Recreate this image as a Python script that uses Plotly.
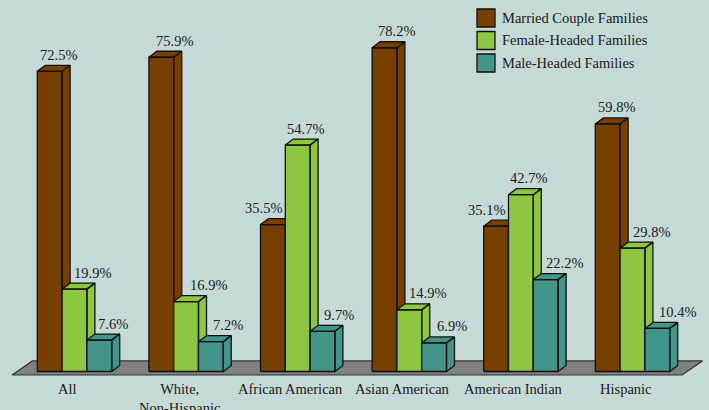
import plotly.graph_objects as go

# ---- data -------------------------------------------------------------
categories = ["All", "White,<br>Non-Hispanic", "African American",
              "Asian American", "American Indian", "Hispanic"]
series_names = ["Married Couple Families", "Female-Headed Families",
                "Male-Headed Families"]
married = [72.5, 75.9, 35.5, 78.2, 35.1, 59.8]
female = [19.9, 16.9, 54.7, 14.9, 42.7, 29.8]
male = [7.6, 7.2, 9.7, 6.9, 22.2, 10.4]
series_values = [married, female, male]

# ---- styling ----------------------------------------------------------
colors = ["#774000", "#8DC63F", "#439489"]
bg = "#C5D9D7"
floor_color = "#808080"
edge = "#111111"
font_family = "Liberation Serif, Times New Roman, serif"
font_size = 14.5
text_color = "#1a1a1a"

# horizontal nudge (px) of each value label, per series
label_dx = [
    [8.5, 13.5, -9.5, 11.5, -9.5, 8.5],
    [17.5, 22, 8, 18, 7.5, 18.5],
    [14, 17, 16.5, 17.5, 19, 20.5],
]

# ---- geometry (pixel scales of the plot area) ------------------------
W, H = 709, 410
px_x = 111.6          # px per category step
px_y = 4.14           # px per percentage point
zero_px = 371.5       # vertical pixel of the 0% baseline
x0 = -74.5 / px_x
x_range = [x0, x0 + W / px_x]
y_range = [-(H - zero_px) / px_y, zero_px / px_y]

bar_w = 24.8 / px_x
dx = 8 / px_x         # 3-D depth offset
dy = 6 / px_y

fig = go.Figure()

# floor
f_front, f_back = -0.85, 2.55
f_l, f_r = x0 + 12 / px_x, x0 + 682 / px_x
f_dx = 20.5 / px_x
fig.add_trace(go.Scatter(
    x=[f_l, f_r, f_r + f_dx, f_l + f_dx, f_l],
    y=[f_front, f_front, f_back, f_back, f_front],
    mode="lines", fill="toself", fillcolor=floor_color,
    line=dict(color="#333333", width=1.2), hoverinfo="skip", showlegend=False))

# 3-D bars: one trace per series, each bar = front, top and side faces
offsets = [-bar_w, 0.0, bar_w]
for s, (name, vals) in enumerate(zip(series_names, series_values)):
    xs, ys = [], []
    for i, v in enumerate(vals):
        xc = i + offsets[s]
        xl, xr = xc - bar_w / 2, xc + bar_w / 2
        faces = [
            ([xl, xr, xr, xl, xl], [0, 0, v, v, 0]),
            ([xl, xr, xr + dx, xl + dx, xl], [v, v, v + dy, v + dy, v]),
            ([xr, xr + dx, xr + dx, xr, xr], [0, dy, v + dy, v, 0]),
        ]
        for fx, fy in faces:
            xs += fx + [None]
            ys += fy + [None]
    fig.add_trace(go.Scatter(
        x=xs, y=ys, mode="lines", fill="toself", fillcolor=colors[s],
        line=dict(color=edge, width=1.3), name=name,
        hoverinfo="skip", showlegend=False))

    # value labels
    for i, v in enumerate(vals):
        fig.add_annotation(
            x=i + offsets[s], y=v, text=f"{v:.1f}%", showarrow=False,
            xanchor="center", yanchor="middle", yshift=16.5,
            xshift=label_dx[s][i],
            font=dict(family=font_family, size=font_size, color=text_color))

# category labels
for i, c in enumerate(categories):
    fig.add_annotation(
        x=i, y=-(379 - zero_px) / px_y, text=c, showarrow=False,
        xanchor="center", yanchor="top", xshift=-7,
        font=dict(family=font_family, size=font_size, color=text_color))

# legend
for s, name in enumerate(series_names):
    cy = 18 + 22.5 * s
    fig.add_shape(
        type="rect", xref="paper", yref="paper",
        x0=477 / W, x1=495 / W, y0=1 - (cy + 9) / H, y1=1 - (cy - 9) / H,
        fillcolor=colors[s], line=dict(color=edge, width=1.3))
    fig.add_annotation(
        xref="paper", yref="paper", x=500 / W, y=1 - cy / H,
        text=name, showarrow=False, xanchor="left", yanchor="middle",
        font=dict(family=font_family, size=font_size, color=text_color))

fig.update_layout(
    width=W, height=H,
    margin=dict(l=0, r=0, t=0, b=0),
    paper_bgcolor=bg, plot_bgcolor=bg,
    xaxis=dict(range=x_range, visible=False, fixedrange=True),
    yaxis=dict(range=y_range, visible=False, fixedrange=True),
    showlegend=False,
)

fig.write_html("out.html")
